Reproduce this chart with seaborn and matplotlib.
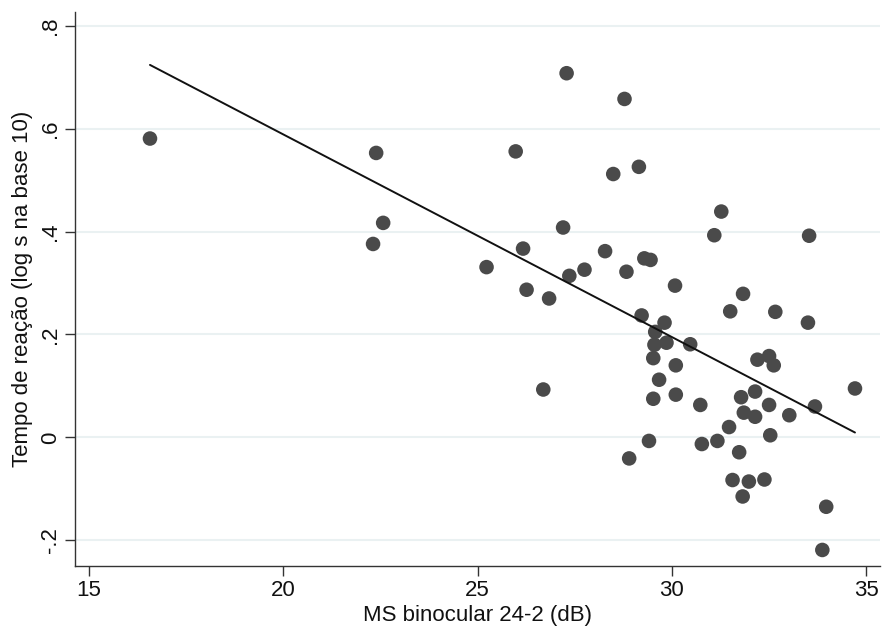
import numpy as np
import pandas as pd
import matplotlib
matplotlib.use("Agg")
import matplotlib.pyplot as plt
import seaborn as sns

ms_binocular = [16.57, 22.39, 22.31, 22.57, 25.23, 25.98, 26.17, 26.26, 26.84, 26.69,
                27.20, 27.29, 27.36, 27.75, 28.28, 28.49, 28.78, 28.83, 28.90, 29.15,
                29.22, 29.29, 29.45, 29.41, 29.57, 29.55, 29.52, 29.67, 29.52, 29.81,
                29.86, 30.08, 30.10, 30.10, 30.47, 30.73, 30.77, 31.09, 31.27, 31.17,
                31.47, 31.50, 31.56, 31.73, 31.78, 31.83, 31.82, 31.85, 31.98, 32.14,
                32.14, 32.20, 32.38, 32.50, 32.62, 32.50, 32.53, 32.66, 33.02, 33.50,
                33.53, 33.68, 33.87, 33.97, 34.71]
tempo_reacao = [0.581, 0.553, 0.376, 0.417, 0.331, 0.556, 0.367, 0.287, 0.270, 0.093,
                0.408, 0.708, 0.314, 0.326, 0.362, 0.512, 0.658, 0.322, -0.041, 0.526,
                0.237, 0.348, 0.345, -0.007, 0.205, 0.180, 0.154, 0.112, 0.075, 0.223,
                0.184, 0.295, 0.140, 0.083, 0.181, 0.063, -0.013, 0.393, 0.439, -0.007,
                0.020, 0.245, -0.083, -0.029, 0.078, 0.279, -0.115, 0.048, -0.086, 0.089,
                0.040, 0.151, -0.082, 0.158, 0.140, 0.063, 0.004, 0.244, 0.043, 0.223,
                0.392, 0.060, -0.219, -0.135, 0.095]

x_ticks = [15, 20, 25, 30, 35]
y_ticks = [-0.2, 0, 0.2, 0.4, 0.6, 0.8]
y_tick_labels = ["-.2", "0", ".2", ".4", ".6", ".8"]

df = pd.DataFrame({"ms": ms_binocular, "tempo": tempo_reacao})

sns.set_theme(style="white")
plt.rcParams['font.family'] = ['Liberation Sans', 'DejaVu Sans']

fig = plt.figure(figsize=(8.82, 6.33), dpi=100)
ax = fig.add_axes([0.085, 0.106, 0.913, 0.875])

sns.regplot(data=df, x="ms", y="tempo", ax=ax, ci=None,
            scatter_kws=dict(s=110, color="#4a4a4a", edgecolor="none", alpha=1, zorder=3),
            line_kws=dict(color="#111111", lw=1.4, zorder=4))

ax.set_xlim(14.64, 35.36)
ax.set_ylim(-0.250, 0.827)
ax.set_xticks(x_ticks)
ax.set_xticklabels([str(t) for t in x_ticks])
ax.set_yticks(y_ticks)
ax.set_yticklabels(y_tick_labels, rotation=90, va="center")

for t in y_ticks:
    ax.axhline(t, color="#eaf1f2", lw=1.5, zorder=0)

for s in ["top", "right"]:
    ax.spines[s].set_visible(False)
for s in ["left", "bottom"]:
    ax.spines[s].set_color("#333333")
    ax.spines[s].set_linewidth(1.0)

ax.tick_params(axis="both", direction="out", length=7, width=1.0, color="#333333",
               labelsize=16, labelcolor="#111111", pad=3, bottom=True, left=True)
ax.set_xlabel("MS binocular 24-2 (dB)", fontsize=16, color="#111111", labelpad=3)
ax.set_ylabel("Tempo de reação (log s na base 10)", fontsize=16, color="#111111", labelpad=5)

fig.savefig("out.png", dpi=100, facecolor="white")
